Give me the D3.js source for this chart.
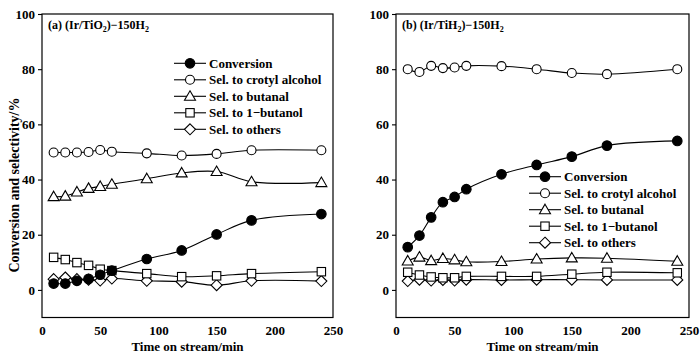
<!DOCTYPE html>
<html><head><meta charset="utf-8">
<script src="https://cdn.jsdelivr.net/npm/d3@7"></script>
<style>body{margin:0;background:#fff}svg{display:block}text{font-family:"Liberation Serif","Times New Roman",serif;font-weight:bold;fill:#000}</style>
</head><body><svg id="c" width="700" height="355"></svg>
<script>
const times = [10, 20, 30, 40, 50, 60, 90, 120, 150, 180, 240];
const seriesNames = ["Conversion", "Sel. to crotyl alcohol", "Sel. to butanal", "Sel. to 1\u2212butanol", "Sel. to others"];
const xTicks = [0, 50, 100, 150, 200, 250];
const yTicks = [0, 20, 40, 60, 80, 100];

// Panel (a) Ir/TiO2
const aConversion = [2.3, 2.3, 3.3, 4.0, 5.5, 7.0, 11.2, 14.3, 20.1, 25.2, 27.5];
const aCrotyl     = [49.8, 49.8, 49.8, 50.0, 50.7, 50.1, 49.5, 48.7, 49.3, 50.6, 50.6];
const aButanal    = [33.8, 34.0, 35.5, 36.8, 37.5, 38.3, 40.3, 42.4, 42.9, 39.2, 38.9];
const aButanol    = [11.8, 11.0, 9.9, 8.9, 7.5, 7.0, 5.9, 4.8, 5.1, 5.9, 6.6];
const aOthers     = [3.9, 4.5, 3.9, 3.7, 3.4, 4.1, 3.3, 3.0, 1.7, 3.3, 3.2];

// Panel (b) Ir/TiH2
const bConversion = [15.5, 19.7, 26.3, 31.8, 33.7, 36.5, 41.9, 45.3, 48.3, 52.3, 54.0];
const bCrotyl     = [80.0, 79.0, 81.2, 80.4, 80.6, 81.2, 81.1, 80.0, 78.6, 78.2, 80.0];
const bButanal    = [10.5, 11.9, 10.6, 11.4, 10.9, 10.2, 10.3, 11.2, 11.6, 11.5, 10.4];
const bButanol    = [6.4, 5.4, 4.7, 4.4, 4.4, 4.9, 4.9, 4.9, 5.7, 6.4, 6.2];
const bOthers     = [3.2, 3.7, 3.4, 3.6, 3.4, 3.7, 3.6, 3.7, 3.7, 3.6, 3.6];

const markers = ["filledCircle", "circle", "triangle", "square", "diamond"];

const svg = d3.select("#c");

function drawMarker(g, type, x, y) {
  let el;
  if (type === "filledCircle") el = g.append("circle").attr("cx", x).attr("cy", y).attr("r", 4.8).attr("fill", "#000");
  else if (type === "circle") el = g.append("circle").attr("cx", x).attr("cy", y).attr("r", 4.5).attr("fill", "#fff");
  else if (type === "triangle") el = g.append("path").attr("d", `M${x},${y-5.5}L${x+5.5},${y+4}L${x-5.5},${y+4}Z`).attr("fill", "#fff");
  else if (type === "square") el = g.append("rect").attr("x", x-4.2).attr("y", y-4.2).attr("width", 8.4).attr("height", 8.4).attr("fill", "#fff");
  else el = g.append("path").attr("d", `M${x},${y-5.5}L${x+5.5},${y}L${x},${y+5.5}L${x-5.5},${y}Z`).attr("fill", "#fff");
  el.attr("stroke", "#000").attr("stroke-width", 1.1);
}

function panel(opts) {
  const {left, right, top, bottom, data, title, legendX, legendY} = opts;
  const x = d3.scaleLinear().domain([0, 250]).range([left, right]);
  const y = d3.scaleLinear().domain([-10, 100]).range([bottom, top]);
  const g = svg.append("g");

  const ya = g.append("g").attr("transform", `translate(${left},0)`)
    .call(d3.axisLeft(y).tickValues(yTicks).tickSize(4).tickPadding(3));
  ya.attr("font-family", null).attr("font-size", null);
  ya.select(".domain").remove();
  ya.selectAll("line").attr("stroke", "#000").attr("stroke-width", 1.1);
  ya.selectAll("text").style("font-size", "13px").style("font-family", "Liberation Serif").style("font-weight", "bold");

  const xa = g.append("g").attr("transform", `translate(0,${bottom})`)
    .call(d3.axisBottom(x).tickValues(xTicks).tickSize(0).tickPadding(8));
  xa.attr("font-family", null).attr("font-size", null);
  xa.select(".domain").remove();
  xa.selectAll("text").style("font-size", "13px").style("font-family", "Liberation Serif").style("font-weight", "bold");

  g.append("rect").attr("x", left).attr("y", top).attr("width", right-left).attr("height", bottom-top)
    .attr("fill", "none").attr("stroke", "#000").attr("stroke-width", 1.2);

  const line = d3.line().x((d, i) => x(times[i])).y(d => y(d)).curve(d3.curveCatmullRom.alpha(0.5));
  data.forEach(s => {
    g.append("path").attr("d", line(s)).attr("fill", "none").attr("stroke", "#000").attr("stroke-width", 1.1);
  });
  for (let k = data.length - 1; k >= 0; k--) {
    data[k].forEach((v, i) => drawMarker(g, markers[k], x(times[i]), y(v)));
  }

  const t = g.append("text").attr("x", left + 6).attr("y", top + 14.5).style("font-size", "12px");
  t.append("tspan").text(title);
  t.append("tspan").text("2").style("font-size", "8px").attr("dy", 3);
  t.append("tspan").text(")\u2212150H").attr("dy", -3);
  t.append("tspan").text("2").style("font-size", "8px").attr("dy", 3);

  seriesNames.forEach((name, k) => {
    const ly = legendY + k * 16.5;
    g.append("line").attr("x1", legendX).attr("x2", legendX + 32).attr("y1", ly).attr("y2", ly)
      .attr("stroke", "#000").attr("stroke-width", 1.1);
    drawMarker(g, markers[k], legendX + 16, ly);
    g.append("text").attr("x", legendX + 35).attr("y", ly + 4.5).style("font-size", "13px").text(name);
  });

  g.append("text").attr("x", (left + right) / 2).attr("y", 351).attr("text-anchor", "middle")
    .style("font-size", "13px").text("Time on stream/min");
}

panel({left: 42, right: 333, top: 14, bottom: 317.5,
  data: [aConversion, aCrotyl, aButanal, aButanol, aOthers],
  title: "(a) (Ir/TiO", legendX: 174, legendY: 63.3});
panel({left: 396, right: 689, top: 14, bottom: 317.5,
  data: [bConversion, bCrotyl, bButanal, bButanol, bOthers],
  title: "(b) (Ir/TiH", legendX: 529, legendY: 176.7});

svg.append("text").attr("transform", "translate(19,185) rotate(-90)").attr("text-anchor", "middle")
  .style("font-size", "14px").text("Conversion and selectivity/%");
</script></body></html>
